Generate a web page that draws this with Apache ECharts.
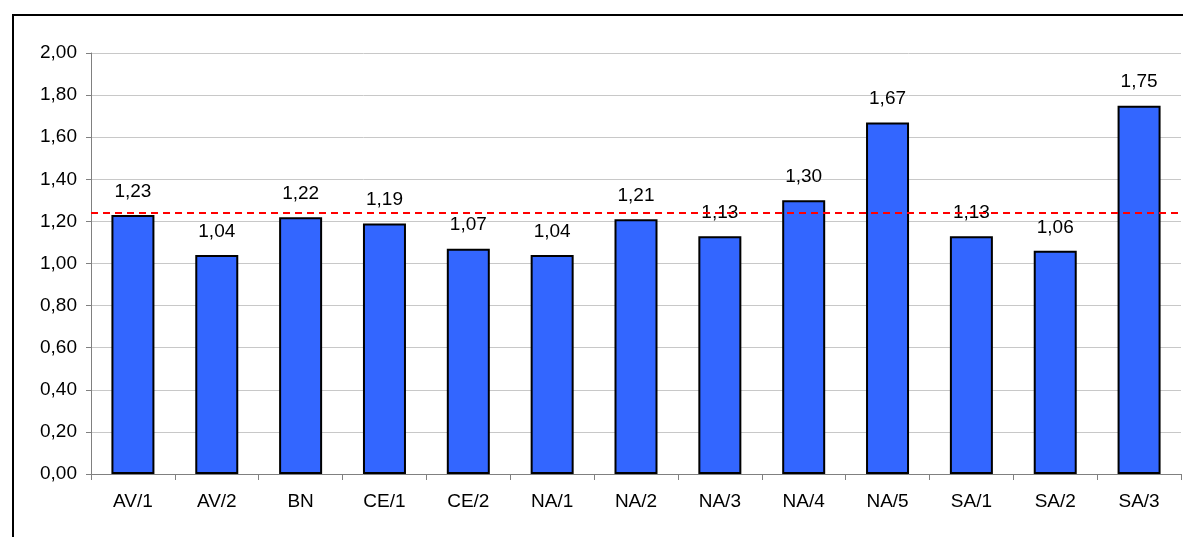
<!DOCTYPE html>
<html>
<head>
<meta charset="utf-8">
<script src="https://cdn.jsdelivr.net/npm/echarts@6/dist/echarts.min.js"></script>
<style>
  html, body { margin: 0; padding: 0; background: #fff; }
  #main { width: 1183px; height: 537px; }
</style>
</head>
<body>
<div id="main"></div>
<script>
// Categories and values
const categories = ["AV/1", "AV/2", "BN", "CE/1", "CE/2", "NA/1", "NA/2", "NA/3", "NA/4", "NA/5", "SA/1", "SA/2", "SA/3"];
const values = [1.23, 1.04, 1.22, 1.19, 1.07, 1.04, 1.21, 1.13, 1.30, 1.67, 1.13, 1.06, 1.75];
const referenceLine = 1.24;
const yTicks = [0, 0.2, 0.4, 0.6, 0.8, 1.0, 1.2, 1.4, 1.6, 1.8, 2.0];

const fmt = (v) => v.toFixed(2).replace(".", ",");
const font = "'Liberation Sans', Arial, sans-serif";

const chart = echarts.init(document.getElementById("main"));
chart.setOption({
  animation: false,
  grid: { left: 91, right: 2, top: 53, bottom: 63 },
  // outer frame of the chart area (right and bottom edges run off the picture)
  graphic: [
    {
      type: "rect",
      shape: { x: 13, y: 15, width: 1200, height: 560 },
      style: { fill: "none", stroke: "#000", lineWidth: 2 },
      silent: true,
    },
  ],
  xAxis: {
    type: "category",
    data: categories,
    axisLine: { lineStyle: { color: "#808080", width: 1 } },
    axisTick: { show: true, length: 6, lineStyle: { color: "#808080" } },
    axisLabel: { color: "#000", fontSize: 19, fontFamily: font, margin: 18, interval: 0 },
  },
  yAxis: {
    type: "value",
    min: yTicks[0],
    max: yTicks[yTicks.length - 1],
    interval: 0.2,
    axisLine: { show: true, lineStyle: { color: "#808080", width: 1 } },
    axisTick: { show: true, length: 5, lineStyle: { color: "#808080" } },
    axisLabel: { color: "#000", fontSize: 19, fontFamily: font, margin: 14, formatter: fmt },
    splitLine: { show: true, lineStyle: { color: "#c8c8c8", width: 1 } },
  },
  series: [
    {
      type: "bar",
      data: values,
      barWidth: 43,
      itemStyle: { color: "#3366ff", borderColor: "#000", borderWidth: 2 },
      label: {
        show: true,
        position: "top",
        distance: 14,
        color: "#000",
        fontSize: 19,
        fontFamily: font,
        formatter: (p) => fmt(p.value),
      },
      markLine: {
        silent: true,
        symbol: "none",
        label: { show: false },
        lineStyle: { color: "#ff0000", type: [7, 5], width: 2 },
        data: [{ yAxis: referenceLine }],
      },
    },
  ],
});
</script>
</body>
</html>
